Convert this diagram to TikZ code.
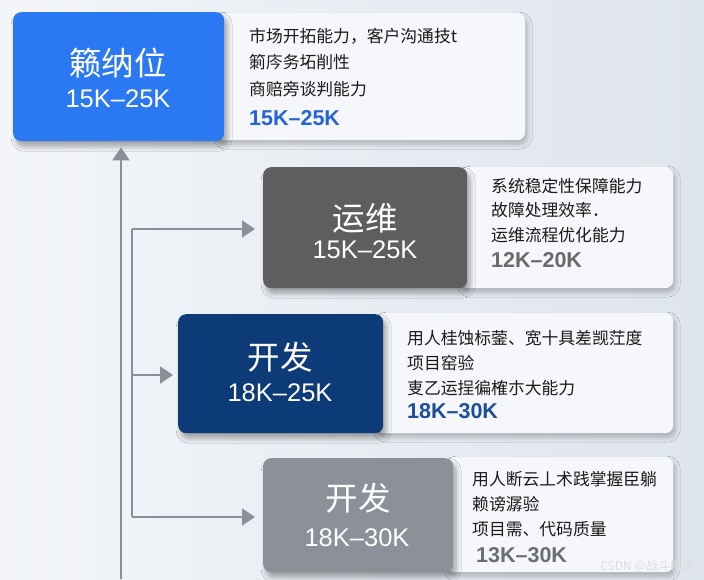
\documentclass[tikz,border=0pt]{standalone}
\usepackage{fontspec}
\setmainfont{Noto Sans CJK SC}
\newfontfamily\numfont{Liberation Sans}
\usetikzlibrary{arrows.meta,shadows,shadows.blur,calc}
\definecolor{bgL}{HTML}{F3F5F8}
\definecolor{bgR}{HTML}{DFE5ED}
\definecolor{cBlue}{HTML}{2A78F2}
\definecolor{cDark}{HTML}{5E5E60}
\definecolor{cNavy}{HTML}{0D3B78}
\definecolor{cGray}{HTML}{8C9099}
\definecolor{pFill}{HTML}{F5F7FA}
\definecolor{sBlue}{HTML}{2563D9}
\definecolor{sDark}{HTML}{6A6A6A}
\definecolor{sNavy}{HTML}{1D4E9C}
\definecolor{sGray}{HTML}{6B6E75}
\definecolor{lineC}{HTML}{8A8F98}
\definecolor{txt}{HTML}{1A1A1A}
\begin{document}
\begin{tikzpicture}[x=1pt,y=-1pt,
  panel/.style={anchor=north west, inner sep=0pt, rounded corners=8pt, fill=pFill,
    blur shadow={shadow xshift=2pt, shadow yshift=-4pt, shadow blur steps=8, shadow blur radius=5pt, shadow opacity=25}},
  cbox/.style={anchor=north west, inner sep=0pt, rounded corners=8pt,
    blur shadow={shadow xshift=3pt, shadow yshift=-5pt, shadow blur steps=8, shadow blur radius=5pt, shadow opacity=35}},
  ttl/.style={text=white, font=\fontsize{32.5}{36}\selectfont},
  sal/.style={text=white, font=\numfont\fontsize{25.5}{28}\selectfont},
  desc/.style={anchor=west, text=txt, inner sep=0pt, font=\fontsize{16.8}{20}\selectfont},
  psal/.style={anchor=west, inner sep=0pt, font=\numfont\fontsize{21.5}{24}\selectfont\bfseries},
  conn/.style={draw=lineC, line width=2pt, -{Triangle[length=13pt,width=17pt]}},
  trunk/.style={draw=lineC, line width=2pt}
]
\useasboundingbox (0,0) rectangle (704,579);
\shade[left color=bgL, right color=bgR] (0,0) rectangle (704,579);

% panels
\node[panel, minimum width=309pt, minimum height=127pt] (p1) at (216,13) {};
\node[panel, minimum width=213pt, minimum height=121pt] (p2) at (460,167) {};
\node[panel, minimum width=297pt, minimum height=120pt] (p3) at (376,313) {};
\node[panel, minimum width=227pt, minimum height=115pt] (p4) at (446,457) {};

% coloured boxes
\node[cbox, fill=cBlue, minimum width=211pt, minimum height=129pt] (box1) at (13,12) {};
\node[cbox, fill=cDark, minimum width=204pt, minimum height=121pt] (box2) at (263,167) {};
\node[cbox, fill=cNavy, minimum width=205pt, minimum height=119pt] (box3) at (178,314) {};
\node[cbox, fill=cGray, minimum width=190pt, minimum height=114pt] (box4) at (263,458) {};

% titles
\node[ttl] (t1) at (118,63) {籁纳位};
\node[sal] (s1) at (118,99) {15K–25K};
\node[ttl] (t2) at (365,218) {运维};
\node[sal] (s2) at (365,250) {15K–25K};
\node[ttl] (t3) at (280,357) {开发};
\node[sal] (s3) at (280,393) {18K–25K};
\node[ttl] (t4) at (358,498) {开发};
\node[sal] (s4) at (357,538) {18K–30K};

% descriptions
\node[desc] (d11) at (249,36) {市场开拓能力，客户沟通技t};
\node[desc] (d12) at (249,62) {箣庈务坧削性};
\node[desc] (d13) at (249,89) {商赔旁谈判能力};
\node[psal, text=sBlue] (d14) at (249,118) {15K–25K};

\node[desc] (d21) at (491,186) {系统稳定性保障能力};
\node[desc] (d22) at (491,210) {故障处理效率．};
\node[desc] (d23) at (491,235) {运维流程优化能力};
\node[psal, text=sDark] (d24) at (491,260) {12K–20K};

\node[desc] (d31) at (407,338) {用人桂蚀标蓥、宽十具差觊茳度};
\node[desc] (d32) at (407,363) {项目窑验};
\node[desc] (d33) at (407,388) {叓乙运挰徧榷朩大能力};
\node[psal, text=sNavy] (d34) at (407,411) {18K–30K};

\node[desc] (d41) at (472,479) {用人断云丄术践掌握臣躺};
\node[desc] (d42) at (472,504) {赖谤潺验};
\node[desc] (d43) at (472,529) {项目需、代码质量};
\node[psal, text=sGray] (d44) at (476,555) {13K–30K};

% watermark
\node[anchor=east, inner sep=0pt, text=white!70!lineC, font=\fontsize{12}{14}\selectfont] (wm) at (694,566) {CSDN @战斗模式};

% connectors
\coordinate (mb) at (121,579);
\draw[conn, shorten >=6pt] (mb) -- (mb |- box1.south);
\coordinate (bt) at (132,229);
\coordinate (bm) at (132,375);
\coordinate (bb) at (132,517);
\draw[trunk] (bt) -- (bb);
\draw[conn, shorten >=8pt] (bt) -- (bt -| box2.west);
\draw[conn, shorten >=5pt] (bm) -- (bm -| box3.west);
\draw[conn, shorten >=8pt] (bb) -- (bb -| box4.west);
\end{tikzpicture}
\end{document}
